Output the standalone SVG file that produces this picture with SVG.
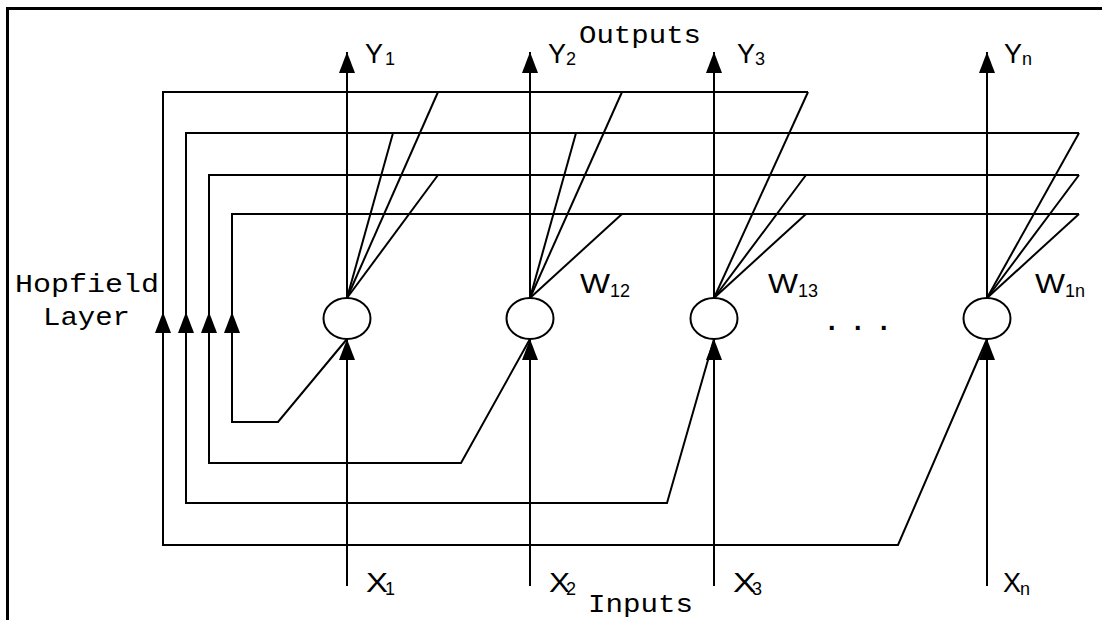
<svg xmlns="http://www.w3.org/2000/svg" width="1102" height="620" viewBox="0 0 1102 620">
<defs>
<marker id="arr" viewBox="0 0 21 16" refX="21" refY="8" markerWidth="21" markerHeight="16" markerUnits="userSpaceOnUse" orient="auto">
<path d="M0,0 L21,8 L0,16 z" fill="#000"/>
</marker>
</defs>
<style>
.ln{fill:none;stroke:#000;stroke-width:2}
.ar{fill:none;stroke:#000;stroke-width:2;marker-end:url(#arr)}
.node{fill:#fff;stroke:#000;stroke-width:2}
.lbl{font-family:"Liberation Sans",Arial,sans-serif;font-size:27px;fill:#000}
.sub{font-family:"Liberation Sans",Arial,sans-serif;font-size:18px;fill:#000}
.mono{font-family:"Liberation Mono","Courier New",monospace;font-size:25px;fill:#000}
</style>
<rect width="1102" height="620" fill="#fff"/>
<path d="M7.5,620 L7.5,8.5 L1102,8.5" fill="none" stroke="#000" stroke-width="3"/>
<g id="connectors">
<polyline class="ln" points="347,339 278,422 232,422 232,214 1079,214"/>
<polyline class="ln" points="530,339 461,463 209,463 209,175 1079,175"/>
<polyline class="ln" points="714,339 667,503 186,503 186,133 1079,133"/>
<polyline class="ln" points="987,339 898,545 163,545 163,92 808,92"/>
<line class="ln" x1="438" y1="92" x2="347" y2="298"/>
<line class="ln" x1="393" y1="133" x2="347" y2="298"/>
<line class="ln" x1="438" y1="175" x2="347" y2="298"/>
<line class="ln" x1="622" y1="92" x2="530" y2="298"/>
<line class="ln" x1="576" y1="133" x2="530" y2="298"/>
<line class="ln" x1="622" y1="214" x2="530" y2="298"/>
<line class="ln" x1="808" y1="92" x2="714" y2="298"/>
<line class="ln" x1="806" y1="175" x2="714" y2="298"/>
<line class="ln" x1="806" y1="214" x2="714" y2="298"/>
<line class="ln" x1="1079" y1="133" x2="987" y2="298"/>
<line class="ln" x1="1079" y1="175" x2="987" y2="298"/>
<line class="ln" x1="1079" y1="214" x2="987" y2="298"/>
<line class="ar" x1="163" y1="340" x2="163" y2="312"/>
<line class="ar" x1="186" y1="340" x2="186" y2="312"/>
<line class="ar" x1="209" y1="340" x2="209" y2="312"/>
<line class="ar" x1="232" y1="340" x2="232" y2="312"/>
<line class="ar" x1="347" y1="298" x2="347" y2="52"/>
<line class="ar" x1="530" y1="298" x2="530" y2="52"/>
<line class="ar" x1="714" y1="298" x2="714" y2="52"/>
<line class="ar" x1="987" y1="298" x2="987" y2="52"/>
<line class="ar" x1="347" y1="586" x2="347" y2="339"/>
<line class="ar" x1="530" y1="586" x2="530" y2="339"/>
<line class="ar" x1="714" y1="586" x2="714" y2="339"/>
<line class="ar" x1="987" y1="586" x2="987" y2="339"/>
</g>
<g id="node1"><ellipse class="node" cx="347" cy="318.5" rx="23.5" ry="20.5"/></g>
<g id="node2"><ellipse class="node" cx="530" cy="318.5" rx="23.5" ry="20.5"/></g>
<g id="node3"><ellipse class="node" cx="714" cy="318.5" rx="23.5" ry="20.5"/></g>
<g id="noden"><ellipse class="node" cx="987" cy="318.5" rx="23.5" ry="20.5"/></g>
<g id="labels">
<text class="lbl" x="365" y="63">Y</text><text class="sub" x="385" y="65">1</text>
<text class="lbl" x="548" y="63">Y</text><text class="sub" x="566" y="65">2</text>
<text class="lbl" x="737" y="63">Y</text><text class="sub" x="755" y="65">3</text>
<text class="lbl" x="1004" y="63">Y</text><text class="sub" x="1022" y="65">n</text>
<text class="lbl" x="366" y="592" textLength="22" lengthAdjust="spacingAndGlyphs">X</text><text class="sub" x="385" y="595">1</text>
<text class="lbl" x="549" y="592" textLength="21" lengthAdjust="spacingAndGlyphs">X</text><text class="sub" x="566" y="595">2</text>
<text class="lbl" x="733" y="592" textLength="23" lengthAdjust="spacingAndGlyphs">X</text><text class="sub" x="752" y="595">3</text>
<text class="lbl" x="1003" y="592">X</text><text class="sub" x="1020" y="595">n</text>
<text class="lbl" x="580" y="293" textLength="30" lengthAdjust="spacingAndGlyphs">W</text><text class="sub" x="610" y="297">12</text>
<text class="lbl" x="768" y="293" textLength="30" lengthAdjust="spacingAndGlyphs">W</text><text class="sub" x="798" y="297">13</text>
<text class="lbl" x="1035" y="293" textLength="30" lengthAdjust="spacingAndGlyphs">W</text><text class="sub" x="1065" y="297">1n</text>
<text class="lbl" x="828 841 854 867 880" y="330" font-size="32" font-weight="bold">. . .</text>
<text class="mono" x="579" y="43" textLength="122" lengthAdjust="spacingAndGlyphs">Outputs</text>
<text class="mono" x="15" y="292" textLength="144" lengthAdjust="spacingAndGlyphs">Hopfield</text>
<text class="mono" x="43" y="325" textLength="87" lengthAdjust="spacingAndGlyphs">Layer</text>
<text class="mono" x="588" y="612" textLength="105" lengthAdjust="spacingAndGlyphs">Inputs</text>
</g>
</svg>
